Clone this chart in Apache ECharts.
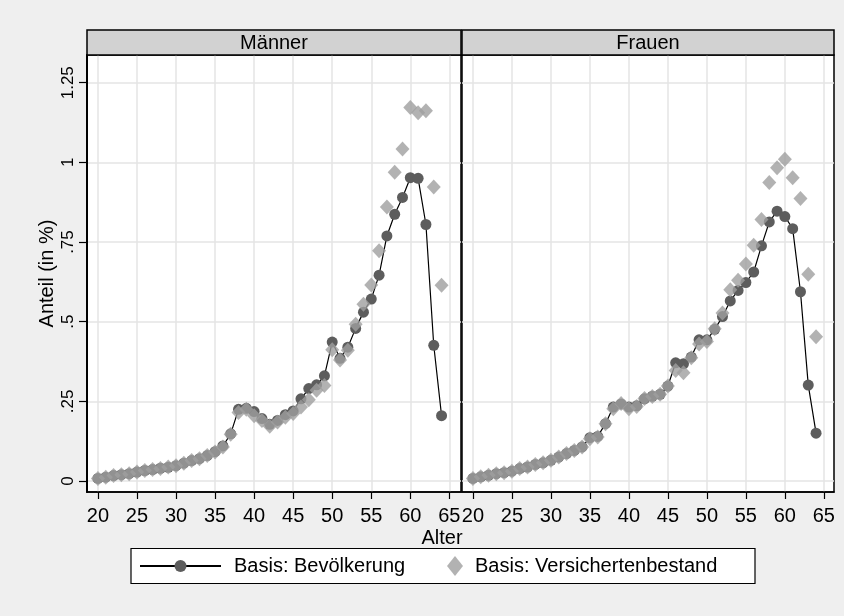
<!DOCTYPE html>
<html>
<head>
<meta charset="utf-8">
<script src="https://cdn.jsdelivr.net/npm/echarts@6/dist/echarts.min.js"></script>
<style>
  html, body { margin: 0; padding: 0; background: #efefef; }
  #chart { width: 844px; height: 616px; }
</style>
</head>
<body>
<div id="chart"></div>
<script>
// Alter (Jahre)
const ages = [20, 21, 22, 23, 24, 25, 26, 27, 28, 29, 30, 31, 32, 33, 34, 35, 36, 37, 38, 39,
  40, 41, 42, 43, 44, 45, 46, 47, 48, 49, 50, 51, 52, 53, 54, 55, 56, 57, 58, 59,
  60, 61, 62, 63, 64];

// Männer, Anteil in %
const maennerBevoelkerung = [0.008, 0.012, 0.017, 0.020, 0.023, 0.028, 0.033, 0.036, 0.040, 0.043,
  0.048, 0.056, 0.064, 0.070, 0.080, 0.092, 0.110, 0.148, 0.225, 0.228,
  0.218, 0.196, 0.178, 0.190, 0.208, 0.220, 0.258, 0.290, 0.302, 0.330,
  0.436, 0.385, 0.420, 0.479, 0.530, 0.571, 0.646, 0.769, 0.837, 0.890,
  0.952, 0.950, 0.805, 0.426, 0.205];
const maennerVersicherte = [0.0075, 0.012, 0.017, 0.020, 0.023, 0.028, 0.033, 0.036, 0.039, 0.044,
  0.048, 0.056, 0.064, 0.070, 0.080, 0.091, 0.107, 0.147, 0.215, 0.225,
  0.205, 0.190, 0.172, 0.185, 0.200, 0.212, 0.232, 0.255, 0.285, 0.300,
  0.412, 0.380, 0.410, 0.492, 0.555, 0.615, 0.723, 0.860, 0.969, 1.042,
  1.172, 1.156, 1.162, 0.923, 0.614];

// Frauen, Anteil in %
const frauenBevoelkerung = [0.008, 0.013, 0.018, 0.023, 0.026, 0.031, 0.039, 0.044, 0.052, 0.057,
  0.065, 0.075, 0.086, 0.096, 0.107, 0.136, 0.140, 0.180, 0.232, 0.242,
  0.232, 0.236, 0.258, 0.266, 0.272, 0.298, 0.371, 0.368, 0.389, 0.443,
  0.443, 0.476, 0.516, 0.565, 0.598, 0.623, 0.656, 0.738, 0.813, 0.847,
  0.830, 0.792, 0.594, 0.301, 0.150];
const frauenVersicherte = [0.0075, 0.013, 0.018, 0.023, 0.026, 0.031, 0.039, 0.044, 0.052, 0.057,
  0.065, 0.075, 0.086, 0.096, 0.107, 0.133, 0.138, 0.180, 0.227, 0.243,
  0.227, 0.234, 0.259, 0.265, 0.272, 0.298, 0.347, 0.340, 0.387, 0.430,
  0.438, 0.478, 0.527, 0.600, 0.630, 0.681, 0.740, 0.821, 0.937, 0.983,
  1.010, 0.952, 0.887, 0.649, 0.453];

const panelTitles = ['Männer', 'Frauen'];
const xTicks = [20, 25, 30, 35, 40, 45, 50, 55, 60, 65];
const yTicks = [0, 0.25, 0.5, 0.75, 1, 1.25];
const seriesNames = ['Basis: Bevölkerung', 'Basis: Versichertenbestand'];

const FONT = '"Liberation Sans", Arial, Helvetica, sans-serif';
const circleColor = '#5d5d5d';
const diamondColor = '#9f9f9f';
const gridColor = '#e4e4e4';

const panels = [
  { left: 87, width: 374, xMax: 66.49, bev: maennerBevoelkerung, vers: maennerVersicherte },
  { left: 462, width: 372, xMax: 66.3, bev: frauenBevoelkerung, vers: frauenVersicherte }
];
const TOP = 55, HEIGHT = 437;

const pairs = (vals) => ages.map((a, i) => [a, vals[i]]);

const option = {
  backgroundColor: '#efefef',
  animation: false,
  textStyle: { fontFamily: FONT, color: '#000' },
  grid: panels.map(p => ({
    left: p.left, top: TOP, width: p.width, height: HEIGHT,
    show: true, backgroundColor: '#ffffff', borderColor: '#000', borderWidth: 1.5
  })),
  xAxis: panels.map((p, i) => ({
    type: 'value', gridIndex: i, min: 18.6, max: p.xMax,
    axisLine: { show: true, onZero: false, lineStyle: { color: '#000', width: 1.5 } },
    axisTick: { show: true, length: 7, customValues: xTicks, lineStyle: { color: '#000', width: 1.2 } },
    axisLabel: { customValues: xTicks, fontSize: 20, color: '#000', margin: 14, fontFamily: FONT },
    splitLine: { show: true, lineStyle: { color: gridColor, width: 1.5 } }
  })),
  yAxis: panels.map((p, i) => ({
    type: 'value', gridIndex: i, min: -0.0345, max: 1.337,
    name: i === 0 ? 'Anteil (in %)' : '',
    nameLocation: 'middle', nameGap: 30, nameRotate: 90,
    nameTextStyle: { fontSize: 20, color: '#000', fontFamily: FONT },
    axisLine: { show: i === 0, onZero: false, lineStyle: { color: '#000', width: 2 } },
    axisTick: { show: i === 0, length: 8, customValues: yTicks, lineStyle: { color: '#000', width: 1.2 } },
    axisLabel: {
      show: i === 0, customValues: yTicks, rotate: 90, fontSize: 17, color: '#000', margin: 10,
      fontFamily: FONT,
      formatter: v => String(v).replace(/^0(?=\.)/, '')
    },
    splitLine: { show: true, lineStyle: { color: gridColor, width: 1.5 } }
  })),
  legend: [
    {
      data: [seriesNames[0]], left: 139, top: 556, padding: 0,
      itemWidth: 81, itemHeight: 15,
      textStyle: { fontSize: 20, color: '#000', fontFamily: FONT, padding: [0, 0, 0, 8] }
    },
    {
      data: [seriesNames[1]], left: 447, top: 556, padding: 0,
      itemWidth: 16, itemHeight: 20,
      textStyle: { fontSize: 20, color: '#000', fontFamily: FONT, padding: [0, 0, 0, 7] }
    }
  ],
  graphic: [
    // legend frame
    { type: 'rect', z: -1, shape: { x: 131, y: 548.5, width: 624, height: 35 },
      style: { fill: '#fff', stroke: '#000', lineWidth: 1.2 } },
    // shared x-axis title
    { type: 'text', style: { text: 'Alter', font: '20px ' + FONT, fill: '#000',
        x: 442, y: 538, textAlign: 'center', textVerticalAlign: 'middle' } }
  ].concat(panels.flatMap((p, i) => [
    { type: 'rect', z: 10, shape: { x: p.left, y: 30, width: p.width, height: TOP - 30 },
      style: { fill: '#d2d2d2', stroke: '#000', lineWidth: 1.5 } },
    { type: 'text', z: 11, style: { text: panelTitles[i], x: p.left + p.width / 2, y: 43,
        textAlign: 'center', textVerticalAlign: 'middle', font: '20px ' + FONT, fill: '#000' } }
  ])),
  series: panels.flatMap((p, i) => [
    {
      name: seriesNames[0], type: 'line', xAxisIndex: i, yAxisIndex: i,
      data: pairs(p.bev), symbol: 'circle', symbolSize: 11, showAllSymbol: true,
      lineStyle: { color: '#000', width: 1.2 },
      itemStyle: { color: circleColor, borderWidth: 0 },
      emphasis: { disabled: true }, z: 2
    },
    {
      name: seriesNames[1], type: 'scatter', xAxisIndex: i, yAxisIndex: i,
      data: pairs(p.vers), symbol: 'diamond', symbolSize: [14, 15],
      itemStyle: { color: diamondColor },
      emphasis: { disabled: true }, z: 3
    }
  ])
};

const chart = echarts.init(document.getElementById('chart'), null, { renderer: 'canvas' });
chart.setOption(option);
</script>
</body>
</html>
